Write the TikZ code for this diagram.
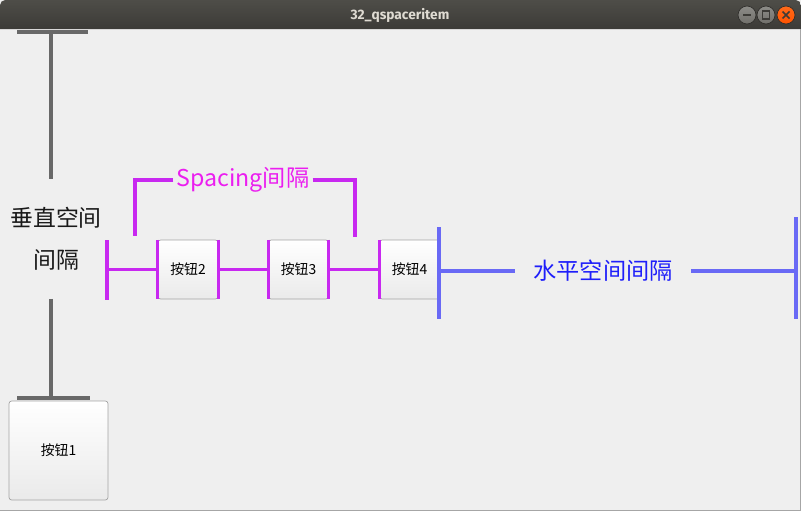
\documentclass[tikz,border=0pt]{standalone}
\usepackage{fontspec}
\setmainfont{Noto Sans CJK SC}
\newfontfamily\titlefont{Fira Sans}
\usetikzlibrary{positioning}

\definecolor{winbg}{RGB}{239,239,239}
\definecolor{titletop}{RGB}{78,77,72}
\definecolor{titlebot}{RGB}{60,59,55}
\definecolor{titletext}{RGB}{223,219,210}
\definecolor{spacergray}{RGB}{104,104,104}
\definecolor{spacermag}{RGB}{200,40,240}
\definecolor{spacingtext}{RGB}{235,30,240}
\definecolor{spacerblue}{RGB}{105,105,245}
\definecolor{bluetext}{RGB}{30,30,250}
\definecolor{btnborder}{RGB}{165,165,165}
\definecolor{btnbottom}{RGB}{234,234,234}
\definecolor{winbtn}{RGB}{112,111,106}

\begin{document}
\begin{tikzpicture}[x=0.02cm,y=-0.02cm,
  button/.style={draw=btnborder,rounded corners=1.5pt,top color=white,bottom color=btnbottom,
    minimum width=1.2cm,minimum height=1.18cm,inner sep=0pt,font=\fontsize{7.9}{9}\selectfont},
  greybar/.style={draw=spacergray,line width=1.8pt},
  magbar/.style={draw=spacermag,line width=1.8pt},
  bluebar/.style={draw=spacerblue,line width=1.8pt},
  winbutton/.style={draw=titlebot!80!black,line width=0.4pt}]

  \useasboundingbox (0,0) rectangle (801,511);
  \fill[winbg] (0,0) rectangle (801,511);

  % title bar
  \shade[top color=titletop,bottom color=titlebot]
  (0,29) [rounded corners=3pt] -- (0,0) -- (801,0) [sharp corners] -- (801,29) -- cycle;
  \node [font=\titlefont\bfseries\fontsize{7.8}{9}\selectfont,text=titletext] at (400,15) (title) {32\_qspaceritem};
  \shade[winbutton,top color=winbtn!80!white,bottom color=winbtn] (747,15) circle (0.18cm);
  \shade[winbutton,top color=winbtn!80!white,bottom color=winbtn] (766,15) circle (0.18cm);
  \shade[winbutton,top color=orange!70!red!90!white,bottom color=orange!65!red] (786,15) circle (0.18cm);
  \draw[titlebot,line width=0.9pt] (743,15) -- (751,15);
  \draw[titlebot,line width=0.7pt] (762.5,11) rectangle (769.5,19);
  \draw[titlebot,line width=0.9pt] (782.5,11.5) -- (789.5,18.5) (782.5,18.5) -- (789.5,11.5);

  % window edges
  \draw[gray!70,line width=0.5pt] (800.5,29) -- (800.5,511) (0,510.5) -- (801,510.5);

  % vertical spacer
  \coordinate (vtop) at (51,32);
  \coordinate (vbot) at (51,398);
  \node [align=center,inner ysep=16pt,text=black!90,font=\fontsize{13}{23.8}\selectfont] at (56,239) (vtxt) {垂直空间\\间隔};
  \draw[greybar] (vtop) ++(-34,0) -- ++(71,0);
  \draw[greybar] (vtop) -- (vtop |- vtxt.north);
  \draw[greybar] (vbot |- vtxt.south) -- (vbot);
  \draw[greybar] (vbot) ++(-34,0) -- ++(73,0);

  \node [button,minimum width=1.98cm,minimum height=1.98cm] at (58.5,450.5) (b1) {按钮1};

  % buttons in the row
  \node [button] at (188,269.5) (b2) {按钮2};
  \node [button] at (298.5,269.5) (b3) {按钮3};
  \node [button] at (409.5,269.5) (b4) {按钮4};

  % spacing between the buttons
  \coordinate (lsp) at (107,269.5);
  \draw[magbar] (lsp) ++(0,-29.5) -- ++(0,60);
  \draw[magbar] (lsp) -- (b2.west);
  \draw[magbar] (b2.east) -- (b3.west) (b3.east) -- (b4.west);
  \foreach \b in {b2,b3,b4}
    \draw[magbar] (\b.north west) -- (\b.south west);
  \draw[magbar] (b2.north east) -- (b2.south east) (b3.north east) -- (b3.south east);

  \node [text=spacingtext,inner xsep=1.6pt,font=\fontsize{13.2}{15}\selectfont] at (243,180) (spc) {Spacing间隔};
  \coordinate (spcl) at (135,236);
  \coordinate (spcr) at (355,237);
  \draw[magbar] (spc.west) -| (spcl);
  \draw[magbar] (spc.east) -| (spcr);

  % horizontal spacer
  \coordinate (hsl) at (439,271);
  \coordinate (hsr) at (796,271);
  \node [text=bluetext,inner xsep=10.5pt,font=\fontsize{13.2}{15}\selectfont] at (603,271) (hsp) {水平空间间隔};
  \draw[bluebar] (hsl) ++(0,-44) -- ++(0,92);
  \draw[bluebar] (hsr) ++(0,-54) -- ++(0,102);
  \draw[bluebar] (hsl) -- (hsp.west);
  \draw[bluebar] (hsp.east) -- (hsr);

\end{tikzpicture}
\end{document}
